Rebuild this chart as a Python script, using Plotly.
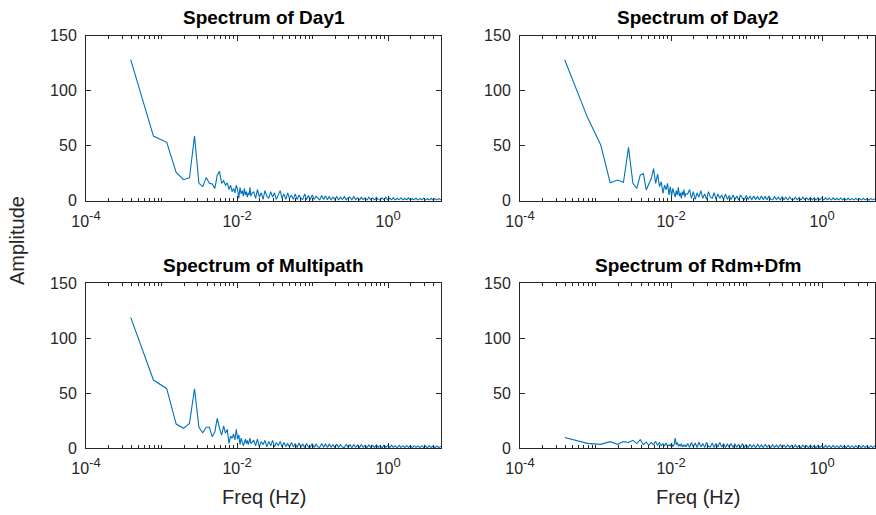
import plotly.graph_objects as go

W, H = 876, 515

# Frequency resolution of the FFT (Hz) and low-frequency bin indices
df = 1 / 2560
low_bins = list(range(1, 41))

# Higher frequencies (Hz), roughly log-spaced up to Nyquist
high_freq = [
    0.0166, 0.0176, 0.0186, 0.0197, 0.0209, 0.0221, 0.0234, 0.0248, 0.0263, 0.0279,
    0.0295, 0.0313, 0.0331, 0.0351, 0.0372, 0.0394, 0.0417, 0.0442, 0.0468, 0.0495,
    0.0525, 0.0556, 0.0589, 0.0624, 0.0661, 0.0700, 0.0741, 0.0785, 0.0832, 0.0881,
    0.0933, 0.0989, 0.105, 0.111, 0.117, 0.124, 0.132, 0.140, 0.148, 0.157,
    0.166, 0.176, 0.186, 0.197, 0.209, 0.221, 0.234, 0.248, 0.263, 0.279,
    0.295, 0.313, 0.331, 0.351, 0.372, 0.394, 0.417, 0.442, 0.468, 0.495,
    0.525, 0.556, 0.589, 0.624, 0.661, 0.700, 0.741, 0.785, 0.832, 0.881,
    0.933, 0.989, 1.05, 1.11, 1.17, 1.24, 1.32, 1.40, 1.48, 1.57,
    1.66, 1.76, 1.86, 1.97, 2.09, 2.21, 2.34, 2.48, 2.63, 2.79,
    2.95, 3.13, 3.31, 3.51, 3.72, 3.94, 4.17, 4.42, 4.68, 5.00,
]

titles = ["Spectrum of Day1", "Spectrum of Day2", "Spectrum of Multipath", "Spectrum of Rdm+Dfm"]

day1_low = [128, 58.6, 52.9, 25.6, 18.9, 20.7, 58.6, 15.6, 12.6, 21,
            15.6, 15, 11, 23, 26.5, 15.6, 18, 14, 16, 10,
            14, 8, 11, 7, 14, 10, 2, 12, 6, 9,
            4, 11, 5, 8, 3, 7, 5, 12, 4, 6]
day1_high = [8, 2, 10, 3, 7, 1, 9, 4, 2, 8, 3, 7, 1, 6, 9, 2, 6, 1, 7, 2,
             5, 1, 6, 0.8, 5, 2, 1, 6, 0.8, 4.5, 1, 5, 0.8, 4, 2, 0.5, 4.5, 1, 4, 0.6,
             3.5, 0.5, 3, 1, 3.5, 0.4, 3, 0.8, 3.5, 0.4, 2.5, 3, 0.4, 3.5, 0.8, 2.5, 0.3, 3, 0.8, 2.5,
             0.3, 3, 0.6, 2.5, 0.3, 2.8, 0.8, 0.3, 2.5, 0.5, 3, 0.3, 2.2, 0.6, 2.5, 0.3, 2, 0.6, 2.5, 0.3,
             2, 0.5, 2.4, 0.2, 1.8, 0.4, 2.2, 0.2, 1.9, 0.5, 2.1, 0.2, 1.8, 0.4, 2, 0.2, 1.7, 0.4, 1.9, 0.3]

day2_low = [128, 75.6, 50.5, 16.2, 18.6, 16.5, 48.3, 15.6, 11, 23,
            24.5, 9.6, 15, 20, 29, 15.6, 24, 12.6, 17, 6.5,
            14, 9.6, 15.6, 5, 12.6, 4, 11, 6, 3, 9,
            5, 12, 4, 7, 2, 8, 5, 10, 3, 6]
day2_high = [6, 10, 2, 8, 1, 7, 3, 9, 2, 6, 1, 8, 3, 2, 7, 1, 6, 2, 5, 0.8,
             6, 1, 4.5, 0.8, 5, 1, 4, 0.5, 5, 2, 0.8, 4.5, 1, 4, 0.5, 4, 1, 3.5, 0.5, 4,
             0.8, 3.5, 0.4, 4, 1, 0.5, 3.5, 0.8, 3, 0.4, 3.5, 0.6, 3, 0.3, 3.2, 0.8, 0.3, 3, 0.5, 2.8,
             0.3, 3, 0.6, 2.5, 0.3, 2.8, 0.5, 2.4, 0.2, 2.6, 0.6, 2.3, 0.3, 2.5, 0.5, 2.2, 0.2, 2.4, 0.5, 2,
             0.3, 2.3, 0.5, 2, 0.2, 2.2, 0.4, 1.9, 0.3, 2.1, 0.4, 1.8, 0.2, 2, 0.4, 1.8, 0.3, 1.9, 0.4, 1.7]

multi_low = [118.8, 61.8, 53.9, 21.8, 17.9, 22.4, 53.9, 18.8, 13.9, 18.8,
             18.8, 10.3, 14.8, 27, 17.9, 11.8, 20, 13.3, 17, 4.2,
             10.9, 8.8, 12.7, 7.3, 17, 8, 12, 3, 9, 6,
             2, 5, 8, 4, 7, 3, 6, 9, 4, 5]
multi_high = [7, 2, 8, 1, 6, 3, 7, 1, 6, 2, 7, 1, 5, 2, 6, 0.8, 5, 1.5, 4, 0.8,
              5, 1, 4, 0.5, 4.5, 1, 3.5, 0.5, 4, 1, 0.8, 4, 0.5, 3.5, 1, 0.5, 4, 0.8, 3.5, 0.5,
              3.5, 0.8, 3, 0.4, 3.5, 0.6, 3, 0.8, 0.4, 3.2, 0.6, 3, 0.3, 3, 0.7, 2.6, 0.3, 3, 0.6, 2.5,
              0.3, 2.8, 0.6, 2.4, 0.3, 2.8, 0.5, 2.3, 0.2, 2.6, 0.6, 2.3, 0.3, 2.5, 0.5, 2.1, 0.2, 2.4, 0.5, 2.1,
              0.3, 2.3, 0.5, 2, 0.2, 2.1, 0.5, 1.9, 0.3, 2.1, 0.4, 1.8, 0.2, 2, 0.5, 1.8, 0.3, 1.8, 0.4, 1.7]

rdm_low = [9.5, 4.2, 3.3, 5.8, 3.3, 5.8, 5, 7, 4, 7.5,
           3, 5.5, 2.5, 5, 3, 6, 2.5, 5, 2, 4,
           2, 4.5, 1.5, 3, 2, 4, 1.5, 3, 9, 3,
           5, 1.5, 3, 2, 4, 1, 2.5, 1.5, 3, 1]
rdm_high = [4, 0.5, 5, 1, 4.5, 0.5, 5.5, 1, 4, 0.5, 5, 1.5, 0.8, 4.5, 0.5, 4, 1, 5, 0.8, 4,
            0.5, 3.5, 0.8, 4, 0.5, 3.5, 0.8, 3, 0.4, 3.8, 0.6, 3, 0.4, 3.5, 0.6, 2.8, 0.3, 3.4, 0.6, 2.8,
            0.3, 3.2, 0.6, 2.6, 0.3, 3, 0.5, 2.6, 0.3, 2.9, 0.5, 2.5, 0.3, 2.8, 0.5, 2.4, 0.3, 2.7, 0.5, 2.4,
            0.2, 2.6, 0.5, 2.3, 0.2, 2.5, 0.4, 2.3, 0.2, 2.5, 0.4, 2.2, 0.2, 2.4, 0.4, 2.2, 0.2, 2.4, 0.4, 2.1,
            0.2, 2.3, 0.4, 2.1, 0.2, 2.3, 0.4, 2.1, 0.2, 2.2, 0.4, 2, 0.2, 2.2, 0.4, 2, 0.2, 2.1, 0.4, 2]

series = [
    (day1_low, day1_high),
    (day2_low, day2_high),
    (multi_low, multi_high),
    (rdm_low, rdm_high),
]

y_ticks = [0, 50, 100, 150]
x_tickvals = [1e-4, 1e-2, 1e0]
x_exponents = ["-4", "-2", "0"]

FONT = "Liberation Sans, Arial, Helvetica, sans-serif"
AX = "#262626"
LINE = "#0072BD"

x_ticktext = ["10<sup><span style='font-size:13px'>%s</span></sup>" % e for e in x_exponents]

# panel boxes in pixels: (left, right, top, bottom)
boxes = [
    (86, 441, 35.5, 200.5),
    (520, 875, 35.5, 200.5),
    (86, 441, 283, 448),
    (520, 875, 283, 448),
]

fig = go.Figure()
layout = dict(
    width=W, height=H,
    margin=dict(l=0, r=0, t=0, b=0, autoexpand=False),
    paper_bgcolor="white", plot_bgcolor="white",
    showlegend=False,
    font=dict(family=FONT, color=AX),
)
annotations = []

for i, ((low, high), (x0, x1, y0, y1)) in enumerate(zip(series, boxes)):
    n = "" if i == 0 else str(i + 1)
    freqs = [k * df for k in low_bins] + high_freq
    amps = low + high
    fig.add_trace(go.Scatter(
        x=freqs, y=amps, mode="lines",
        line=dict(color=LINE, width=1.1),
        xaxis="x" + n, yaxis="y" + n,
        hoverinfo="skip", cliponaxis=True,
    ))
    layout["xaxis" + n] = dict(
        type="log", domain=[x0 / W, x1 / W], anchor="y" + n,
        range=[-4, 0.7], automargin=False,
        tickvals=x_tickvals, ticktext=x_ticktext,
        ticks="inside", ticklen=5, tickcolor=AX, tickwidth=1,
        minor=dict(ticks="inside", ticklen=3, tickcolor=AX, dtick="D1", showgrid=False),
        showline=True, linecolor=AX, linewidth=1, mirror="ticks",
        showgrid=False, zeroline=False,
        tickfont=dict(size=16, color=AX, family=FONT),
        ticklabelstandoff=6,
    )
    layout["yaxis" + n] = dict(
        domain=[1 - y1 / H, 1 - y0 / H], anchor="x" + n,
        range=[0, 150], tickvals=y_ticks, automargin=False,
        ticks="inside", ticklen=5, tickcolor=AX, tickwidth=1,
        showline=True, linecolor=AX, linewidth=1, mirror="ticks",
        showgrid=False, zeroline=False,
        tickfont=dict(size=16, color=AX, family=FONT),
        ticklabelstandoff=5,
    )
    annotations.append(dict(
        text="<b>" + titles[i] + "</b>", xref="paper", yref="paper",
        x=(x0 + x1) / 2 / W, y=1 - (y0 - 18) / H,
        xanchor="center", yanchor="middle", showarrow=False,
        font=dict(size=19, color="black", family=FONT),
    ))

for xc in [(86 + 441) / 2, (520 + 875) / 2]:
    annotations.append(dict(
        text="Freq (Hz)", xref="paper", yref="paper",
        x=xc / W, y=1 - 497 / H, xanchor="center", yanchor="middle",
        showarrow=False, font=dict(size=20, color=AX, family=FONT),
    ))
annotations.append(dict(
    text="Amplitude", xref="paper", yref="paper",
    x=17 / W, y=1 - 241 / H, xanchor="center", yanchor="middle",
    textangle=-90, showarrow=False, font=dict(size=20, color=AX, family=FONT),
))

layout["annotations"] = annotations
fig.update_layout(**layout)
fig.write_html("out.html")
